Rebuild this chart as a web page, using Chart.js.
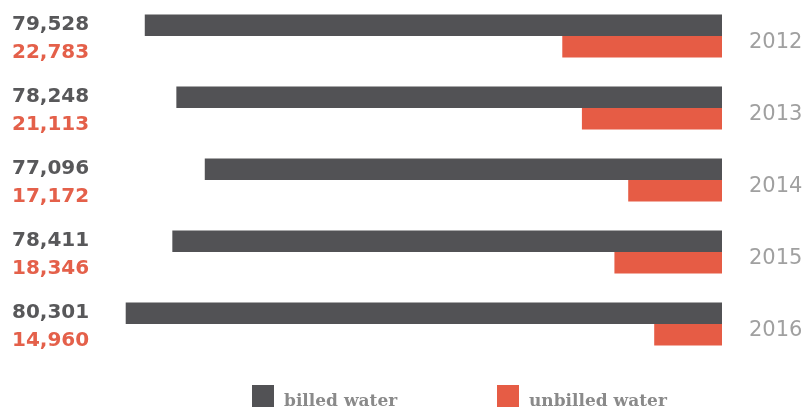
<!DOCTYPE html>
<html>
<head>
<meta charset="utf-8">
<script src="https://cdn.jsdelivr.net/npm/chart.js@4"></script>
<style>
  html, body { margin: 0; padding: 0; background: #fff; overflow: hidden; }
  #wrap { position: relative; width: 809px; height: 407px; }
</style>
</head>
<body>
<div id="wrap"><canvas id="water"></canvas></div>
<script>
// water volumes per year
const years = ['2012', '2013', '2014', '2015', '2016'];
const billed = [79528, 78248, 77096, 78411, 80301];
const unbilled = [22783, 21113, 17172, 18346, 14960];
const seriesNames = ['billed water', 'unbilled water'];

const DARK = '#525255';
const ORANGE = '#e65c45';

// value labels at the left, one pair per year
const valueLabels = {
  id: 'valueLabels',
  afterDatasetsDraw(chart) {
    const c = chart.ctx;
    c.save();
    c.font = 'bold 20px "DejaVu Sans"';
    c.textAlign = 'left';
    c.textBaseline = 'alphabetic';
    const colors = ['#58585a', '#e4604a'];
    const shift = [4.5, 11.5];
    chart.data.datasets.forEach((ds, di) => {
      chart.getDatasetMeta(di).data.forEach((bar, i) => {
        c.fillStyle = colors[di];
        c.fillText(ds.data[i].toLocaleString('en-US'), 12, bar.y + shift[di]);
      });
    });
    c.restore();
  }
};

// legend along the bottom edge
const bottomLegend = {
  id: 'bottomLegend',
  afterDraw(chart) {
    const c = chart.ctx;
    const xs = [252, 497];
    c.save();
    c.font = 'bold 17px "DejaVu Serif"';
    c.textBaseline = 'alphabetic';
    chart.data.datasets.forEach((ds, di) => {
      c.fillStyle = ds.backgroundColor;
      c.fillRect(xs[di], 385, 22, 22);
      c.fillStyle = '#8a8a8a';
      c.fillText(ds.label, xs[di] + 32, 406);
    });
    c.restore();
  }
};

new Chart(document.getElementById('water'), {
  type: 'bar',
  data: {
    labels: years,
    datasets: [{
      label: seriesNames[0],
      data: billed,
      backgroundColor: DARK,
      xAxisID: 'xb'
    },
    {
      label: seriesNames[1],
      data: unbilled,
      backgroundColor: ORANGE,
      xAxisID: 'xu'
    }]
  },
  plugins: [valueLabels, bottomLegend],
  options: {
    indexAxis: 'y',
    responsive: true,
    maintainAspectRatio: false,
    animation: false,
    barPercentage: 1,
    categoryPercentage: 0.6,
    layout: {
      padding: { left: 100, right: 0, top: 0, bottom: 47 }
    },
    plugins: {
      legend: { display: false },
      tooltip: { enabled: false }
    },
    scales: {
      xb: {
        type: 'linear',
        axis: 'x',
        display: false,
        reverse: true,
        min: 56130,
        max: 81343
      },
      xu: {
        type: 'linear',
        axis: 'x',
        display: false,
        reverse: true,
        min: 9190,
        max: 62126
      },
      y: {
        position: 'right',
        grid: { display: false, drawTicks: false },
        border: { display: false },
        ticks: {
          padding: 27,
          labelOffset: 7,
          color: '#a0a0a0',
          font: { family: 'DejaVu Sans', size: 21 }
        },
        // fixed gutter for the year labels, no extra top/bottom room
        afterFit(scale) {
          scale.width = 87;
          scale.paddingTop = 0;
          scale.paddingBottom = 0;
        }
      }
    }
  }
});
</script>
</body>
</html>
